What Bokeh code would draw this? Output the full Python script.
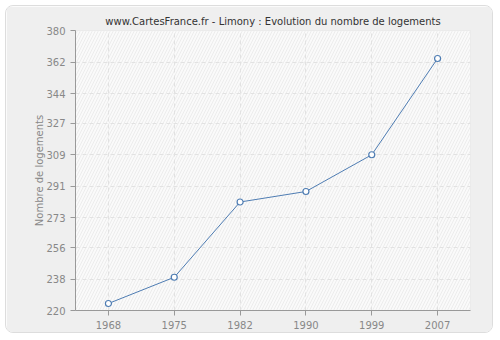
from bokeh.plotting import figure
from bokeh.models import FixedTicker, BoxAnnotation, ColumnDataSource
from bokeh.embed import file_html
from bokeh.resources import INLINE

years = ["1968", "1975", "1982", "1990", "1999", "2007"]
logements = [224, 239, 282, 288, 309, 364]
y_ticks = [220, 238, 256, 273, 291, 309, 327, 344, 362, 380]

FONT = "DejaVu Sans"

p = figure(width=488, height=328, x_range=years, y_range=(220, 380),
           output_backend="svg", toolbar_location=None,
           title="www.CartesFrance.fr - Limony : Evolution du nombre de logements")
p.styles = {"margin": "5px", "border": "1px solid #dddddd", "border-radius": "8px",
            "overflow": "hidden"}
p.min_border_left = 69
p.min_border_right = 24
p.min_border_top = 24
p.min_border_bottom = 24
p.border_fill_color = "#efefef"
p.background_fill_color = "#fafafa"
p.outline_line_color = "#e6e6e6"

p.title.align = "center"
p.title.text_font = FONT
p.title.text_font_size = "10px"
p.title.text_font_style = "normal"
p.title.text_color = "#333333"
p.title.offset = 0
p.title.standoff = 8

bg = BoxAnnotation(fill_color="#fafafa", fill_alpha=1, hatch_pattern="/",
                   hatch_color="#ececec", hatch_scale=6, hatch_weight=1,
                   line_color=None, level="image")
p.add_layout(bg)

p.yaxis.ticker = FixedTicker(ticks=y_ticks)
for ax in (p.xaxis, p.yaxis):
    ax.axis_line_color = "#999999"
    ax.major_tick_line_color = "#999999"
    ax.major_tick_out = 5
    ax.major_tick_in = 0
    ax.minor_tick_line_color = None
    ax.major_label_text_font = FONT
    ax.major_label_text_font_size = "10px"
    ax.major_label_text_color = "#888888"
p.yaxis.axis_label = "Nombre de logements"
p.yaxis.axis_label_text_font = FONT
p.yaxis.axis_label_text_font_size = "10px"
p.yaxis.axis_label_text_font_style = "normal"
p.yaxis.axis_label_text_color = "#888888"
p.yaxis.axis_label_standoff = -2

for g in (p.xgrid, p.ygrid):
    g.grid_line_color = "#e2e2e2"
    g.grid_line_dash = "4 3"
    g.grid_line_width = 1

src = ColumnDataSource(dict(x=years, y=logements))
p.line("x", "y", source=src, line_color="#4f7db3", line_width=1)
p.scatter("x", "y", source=src, size=6, marker="circle", fill_color="white",
          line_color="#4f7db3", line_width=1.2)

open("out.html", "w").write(file_html(p, INLINE))
